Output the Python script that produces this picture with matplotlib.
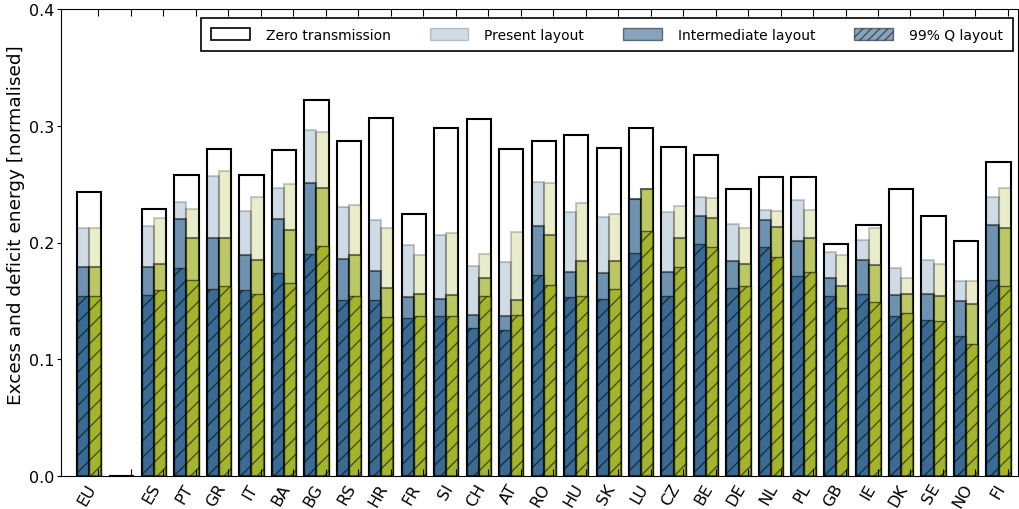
import numpy as np
import matplotlib
matplotlib.use('Agg')
import matplotlib.pyplot as plt
from matplotlib.patches import Patch

#%% data
countries = ['EU', '', 'ES', 'PT', 'GR', 'IT', 'BA', 'BG', 'RS', 'HR', 'FR', 'SI', 'CH', 'AT',
             'RO', 'HU', 'SK', 'LU', 'CZ', 'BE', 'DE', 'NL', 'PL', 'GB', 'IE', 'DK', 'SE', 'NO', 'FI']

zero_tr = [0.243, 0, 0.229, 0.258, 0.280, 0.258, 0.279, 0.322, 0.287, 0.307, 0.224, 0.298, 0.306, 0.280,
           0.287, 0.292, 0.281, 0.298, 0.282, 0.275, 0.246, 0.256, 0.256, 0.199, 0.215, 0.246, 0.223, 0.201, 0.269]

present_b = [0.212, 0, 0.214, 0.235, 0.257, 0.227, 0.247, 0.296, 0.230, 0.219, 0.198, 0.206, 0.180, 0.183,
             0.252, 0.226, 0.222, 0.237, 0.226, 0.239, 0.216, 0.228, 0.236, 0.192, 0.202, 0.178, 0.185, 0.167, 0.239]
present_o = [0.212, 0, 0.221, 0.229, 0.261, 0.239, 0.250, 0.295, 0.232, 0.212, 0.189, 0.208, 0.190, 0.209,
             0.251, 0.234, 0.224, 0.246, 0.231, 0.238, 0.212, 0.227, 0.228, 0.189, 0.212, 0.170, 0.182, 0.167, 0.247]

interm_b = [0.179, 0, 0.179, 0.220, 0.204, 0.189, 0.220, 0.251, 0.186, 0.176, 0.153, 0.152, 0.138, 0.137,
            0.214, 0.175, 0.174, 0.237, 0.175, 0.223, 0.184, 0.219, 0.201, 0.170, 0.185, 0.155, 0.156, 0.150, 0.215]
interm_o = [0.179, 0, 0.182, 0.204, 0.204, 0.185, 0.211, 0.247, 0.189, 0.161, 0.156, 0.155, 0.170, 0.151,
            0.206, 0.184, 0.184, 0.246, 0.204, 0.221, 0.182, 0.213, 0.204, 0.163, 0.181, 0.156, 0.154, 0.147, 0.212]

q99_b = [0.154, 0, 0.155, 0.178, 0.160, 0.159, 0.174, 0.190, 0.151, 0.151, 0.135, 0.137, 0.127, 0.125,
         0.172, 0.153, 0.152, 0.191, 0.154, 0.199, 0.161, 0.196, 0.171, 0.154, 0.156, 0.137, 0.134, 0.120, 0.168]
q99_o = [0.154, 0, 0.159, 0.168, 0.163, 0.156, 0.165, 0.197, 0.154, 0.136, 0.137, 0.137, 0.154, 0.138,
         0.164, 0.154, 0.160, 0.210, 0.179, 0.196, 0.163, 0.188, 0.175, 0.144, 0.149, 0.140, 0.133, 0.113, 0.163]

#%% styling
blue = '#0f4b7d'
olive = '#91a500'
alphas = [0.2, 0.5, 0.55]
w = 0.75
ind = np.arange(len(countries))

fig = plt.figure(figsize=(10.19, 5.10), dpi=100)
ax = fig.add_axes([61/1019., 33/510., (1018-61)/1019., 467/510.])

# zero transmission outline behind everything
ax.bar(ind, zero_tr, w, color='white', edgecolor='k', lw=1.5)

for col, off, series in [(blue, -w/4, [present_b, interm_b, q99_b]),
                         (olive, w/4, [present_o, interm_o, q99_o])]:
    ax.bar(ind + off, series[0], w/2, color=col, alpha=alphas[0], edgecolor='k', lw=1.5)
    ax.bar(ind + off, series[1], w/2, color=col, alpha=alphas[1], edgecolor='k', lw=1.5)
    ax.bar(ind + off, series[2], w/2, color=col, alpha=alphas[2], edgecolor='k', lw=1.0, hatch='//')

ax.set_xlim(-0.86, 28.6)
ax.set_ylim(0, 0.4)
ax.set_yticks([0.0, 0.1, 0.2, 0.3, 0.4])
ax.set_yticklabels(['0.0', '0.1', '0.2', '0.3', '0.4'], fontsize=11.5)
ax.set_xticks(ind + 0.29)
ax.set_xticklabels(countries, rotation=60, ha='right', fontsize=11.5)
ax.tick_params(axis='x', direction='in', top=True, length=5)
ax.tick_params(axis='y', direction='out', length=3, pad=1.5)
ax.set_ylabel('Excess and deficit energy [normalised]', fontsize=13.3, labelpad=3, y=0.54)

handles = [Patch(facecolor='white', edgecolor='k', lw=1.2),
           Patch(facecolor=blue, alpha=alphas[0], edgecolor='k'),
           Patch(facecolor=blue, alpha=alphas[1], edgecolor='k'),
           Patch(facecolor=blue, alpha=alphas[1], edgecolor='k', hatch='////')]
leg = ax.legend(handles, ['Zero transmission', 'Present layout', 'Intermediate layout', '99% Q layout'],
                ncol=4, loc='upper right', bbox_to_anchor=(0.9948, 0.9807), borderaxespad=0,
                fontsize=10, fancybox=False, framealpha=1, edgecolor='k',
                handlelength=2.8, handleheight=1.0, handletextpad=1.15,
                columnspacing=2.8, borderpad=0.7)
leg.get_frame().set_linewidth(1.2)

fig.savefig('out.png', dpi=100)
